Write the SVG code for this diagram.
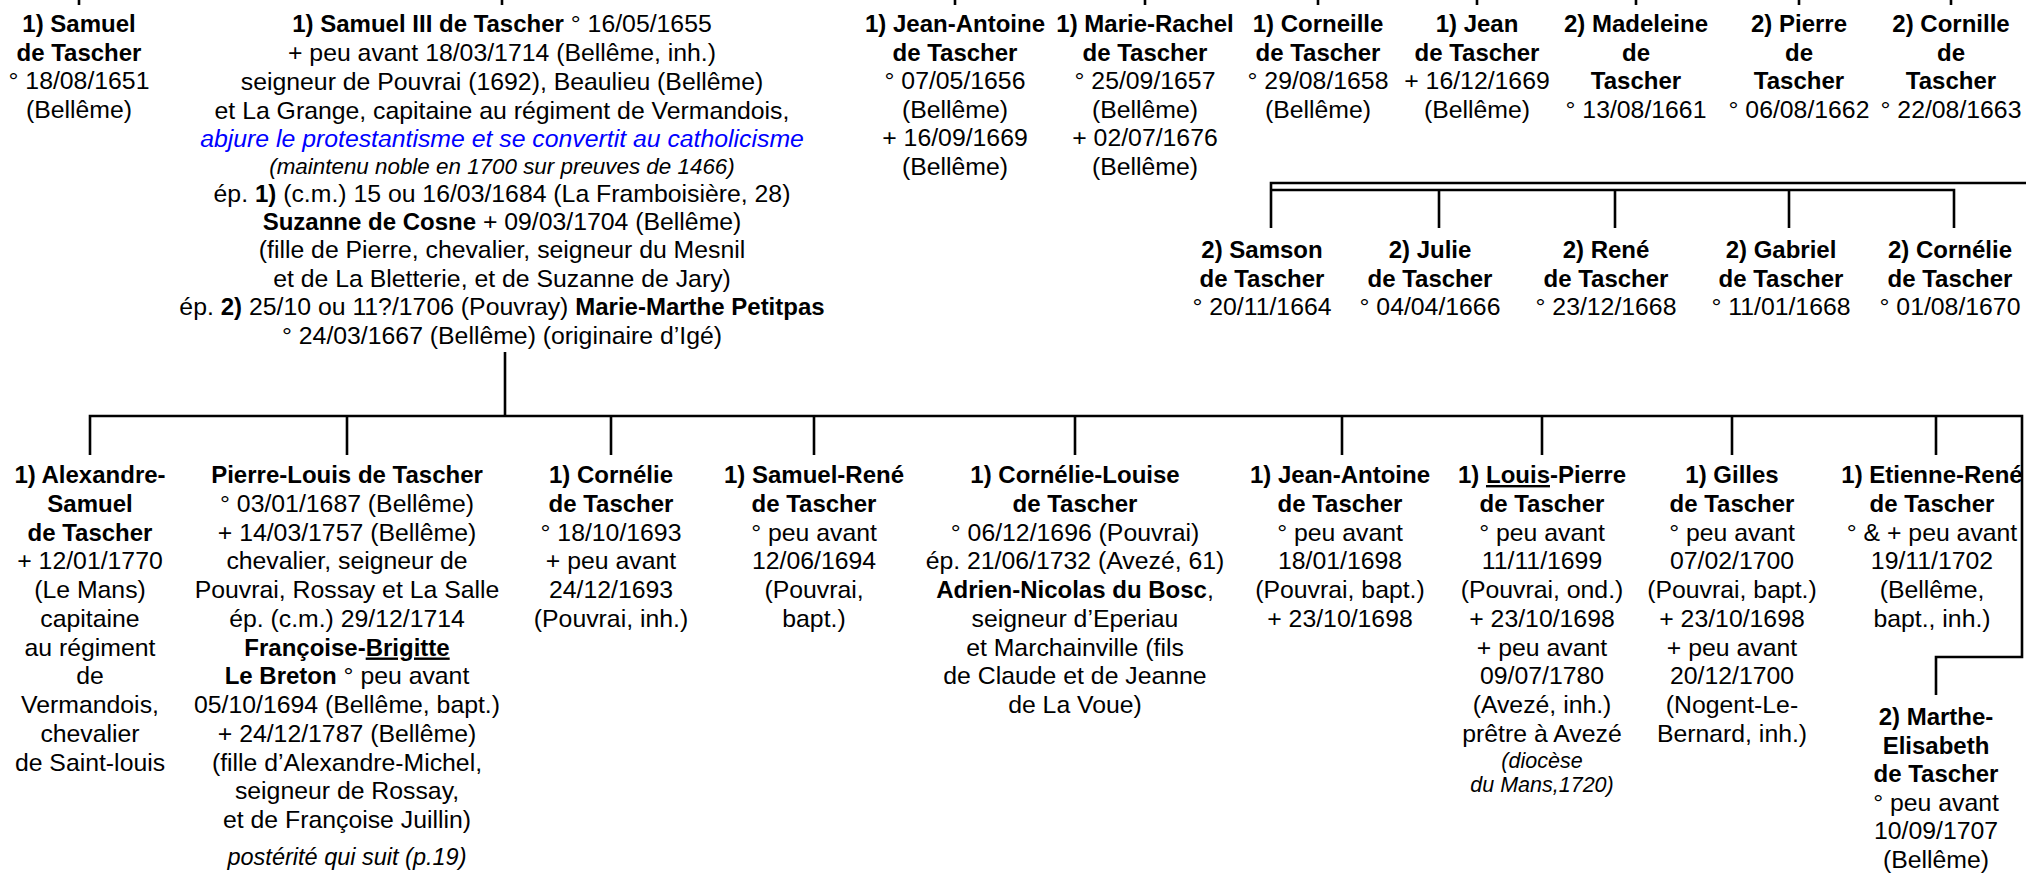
<svg xmlns="http://www.w3.org/2000/svg" width="2026" height="882" viewBox="0 0 2026 882">
<style>
text{font-family:"Liberation Sans",Arial,sans-serif;font-size:24.8px;text-anchor:middle;fill:#000}
.b{font-weight:bold;font-size:24px}
.i{font-style:italic}
.blue{fill:#0000ff}
.s{font-size:22.4px}
.s2{font-size:21.5px}
.u{text-decoration:underline}
.c{stroke:#000;stroke-width:2.6;fill:none}
</style>
<rect width="2026" height="882" fill="#fff"/>
<g id="connectors" class="c">
<path d="M79 0V5M502 0V5M955 0V5M1145 0V5M1318 0V5M1477 0V5M1636 0V5M1799 0V5M1951 0V5"/>
<path d="M1271 228V183H2026"/>
<path d="M1271 190H1954V228M1439 190V228M1615 190V228M1789 190V228"/>
<path d="M505 352V416"/>
<path d="M90 455V416H2022V657H1936V695"/>
<path d="M347 416V455M611 416V455M814 416V455M1075 416V455M1342 416V455M1542 416V455M1732 416V455M1936 416V455"/>
</g>
<g id="n-samuel">
<text x="79" y="32" class="b">1) Samuel</text>
<text x="79" y="60.5" class="b">de Tascher</text>
<text x="79" y="89">° 18/08/1651</text>
<text x="79" y="117.5">(Bellême)</text>
</g>
<g id="n-samuel3">
<text x="502" y="32"><tspan class="b">1) Samuel III de Tascher</tspan> ° 16/05/1655</text>
<text x="502" y="61">+ peu avant 18/03/1714 (Bellême, inh.)</text>
<text x="502" y="90">seigneur de Pouvrai (1692), Beaulieu (Bellême)</text>
<text x="502" y="118.5">et La Grange, capitaine au régiment de Vermandois,</text>
<text x="502" y="146.5" class="i blue">abjure le protestantisme et se convertit au catholicisme</text>
<text x="502" y="173.5" class="i s">(maintenu noble en 1700 sur preuves de 1466)</text>
<text x="502" y="201.5">ép. <tspan class="b">1)</tspan> (c.m.) 15 ou 16/03/1684 (La Framboisière, 28)</text>
<text x="502" y="229.5"><tspan class="b">Suzanne de Cosne</tspan> + 09/03/1704 (Bellême)</text>
<text x="502" y="258">(fille de Pierre, chevalier, seigneur du Mesnil</text>
<text x="502" y="286.5">et de La Bletterie, et de Suzanne de Jary)</text>
<text x="502" y="315">ép. <tspan class="b">2)</tspan> 25/10 ou 11?/1706 (Pouvray) <tspan class="b">Marie-Marthe Petitpas</tspan></text>
<text x="502" y="343.5">° 24/03/1667 (Bellême) (originaire d’Igé)</text>
</g>
<g id="n-jeanantoine1">
<text x="955" y="32" class="b">1) Jean-Antoine</text>
<text x="955" y="60.5" class="b">de Tascher</text>
<text x="955" y="89">° 07/05/1656</text>
<text x="955" y="117.5">(Bellême)</text>
<text x="955" y="146">+ 16/09/1669</text>
<text x="955" y="174.5">(Bellême)</text>
</g>
<g id="n-marierachel">
<text x="1145" y="32" class="b">1) Marie-Rachel</text>
<text x="1145" y="60.5" class="b">de Tascher</text>
<text x="1145" y="89">° 25/09/1657</text>
<text x="1145" y="117.5">(Bellême)</text>
<text x="1145" y="146">+ 02/07/1676</text>
<text x="1145" y="174.5">(Bellême)</text>
</g>
<g id="n-corneille">
<text x="1318" y="32" class="b">1) Corneille</text>
<text x="1318" y="60.5" class="b">de Tascher</text>
<text x="1318" y="89">° 29/08/1658</text>
<text x="1318" y="117.5">(Bellême)</text>
</g>
<g id="n-jean">
<text x="1477" y="32" class="b">1) Jean</text>
<text x="1477" y="60.5" class="b">de Tascher</text>
<text x="1477" y="89">+ 16/12/1669</text>
<text x="1477" y="117.5">(Bellême)</text>
</g>
<g id="n-madeleine">
<text x="1636" y="32" class="b">2) Madeleine</text>
<text x="1636" y="60.5" class="b">de</text>
<text x="1636" y="89" class="b">Tascher</text>
<text x="1636" y="117.5">° 13/08/1661</text>
</g>
<g id="n-pierre">
<text x="1799" y="32" class="b">2) Pierre</text>
<text x="1799" y="60.5" class="b">de</text>
<text x="1799" y="89" class="b">Tascher</text>
<text x="1799" y="117.5">° 06/08/1662</text>
</g>
<g id="n-cornille">
<text x="1951" y="32" class="b">2) Cornille</text>
<text x="1951" y="60.5" class="b">de</text>
<text x="1951" y="89" class="b">Tascher</text>
<text x="1951" y="117.5">° 22/08/1663</text>
</g>
<g id="n-samson">
<text x="1262" y="258" class="b">2) Samson</text>
<text x="1262" y="286.5" class="b">de Tascher</text>
<text x="1262" y="315">° 20/11/1664</text>
</g>
<g id="n-julie">
<text x="1430" y="258" class="b">2) Julie</text>
<text x="1430" y="286.5" class="b">de Tascher</text>
<text x="1430" y="315">° 04/04/1666</text>
</g>
<g id="n-rene">
<text x="1606" y="258" class="b">2) René</text>
<text x="1606" y="286.5" class="b">de Tascher</text>
<text x="1606" y="315">° 23/12/1668</text>
</g>
<g id="n-gabriel">
<text x="1781" y="258" class="b">2) Gabriel</text>
<text x="1781" y="286.5" class="b">de Tascher</text>
<text x="1781" y="315">° 11/01/1668</text>
</g>
<g id="n-cornelie2">
<text x="1950" y="258" class="b">2) Cornélie</text>
<text x="1950" y="286.5" class="b">de Tascher</text>
<text x="1950" y="315">° 01/08/1670</text>
</g>
<g id="n-alexandre">
<text x="90" y="483" class="b">1) Alexandre-</text>
<text x="90" y="511.75" class="b">Samuel</text>
<text x="90" y="540.5" class="b">de Tascher</text>
<text x="90" y="569.25">+ 12/01/1770</text>
<text x="90" y="598">(Le Mans)</text>
<text x="90" y="626.75">capitaine</text>
<text x="90" y="655.5">au régiment</text>
<text x="90" y="684.25">de</text>
<text x="90" y="713">Vermandois,</text>
<text x="90" y="741.75">chevalier</text>
<text x="90" y="770.5">de Saint-louis</text>
</g>
<g id="n-pierrelouis">
<text x="347" y="483" class="b">Pierre-Louis de Tascher</text>
<text x="347" y="511.75">° 03/01/1687 (Bellême)</text>
<text x="347" y="540.5">+ 14/03/1757 (Bellême)</text>
<text x="347" y="569.25">chevalier, seigneur de</text>
<text x="347" y="598">Pouvrai, Rossay et La Salle</text>
<text x="347" y="626.75">ép. (c.m.) 29/12/1714</text>
<text x="347" y="655.5" class="b">Françoise-<tspan class="u">Brigitte</tspan></text>
<text x="347" y="684.25"><tspan class="b">Le Breton</tspan> ° peu avant</text>
<text x="347" y="713">05/10/1694 (Bellême, bapt.)</text>
<text x="347" y="741.75">+ 24/12/1787 (Bellême)</text>
<text x="347" y="770.5">(fille d’Alexandre-Michel,</text>
<text x="347" y="799.25">seigneur de Rossay,</text>
<text x="347" y="828">et de Françoise Juillin)</text>
<text x="347" y="865" class="i" style="font-size:23.5px">postérité qui suit (p.19)</text>
</g>
<g id="n-cornelie1">
<text x="611" y="483" class="b">1) Cornélie</text>
<text x="611" y="511.75" class="b">de Tascher</text>
<text x="611" y="540.5">° 18/10/1693</text>
<text x="611" y="569.25">+ peu avant</text>
<text x="611" y="598">24/12/1693</text>
<text x="611" y="626.75">(Pouvrai, inh.)</text>
</g>
<g id="n-samuelrene">
<text x="814" y="483" class="b">1) Samuel-René</text>
<text x="814" y="511.75" class="b">de Tascher</text>
<text x="814" y="540.5">° peu avant</text>
<text x="814" y="569.25">12/06/1694</text>
<text x="814" y="598">(Pouvrai,</text>
<text x="814" y="626.75">bapt.)</text>
</g>
<g id="n-cornelielouise">
<text x="1075" y="483" class="b">1) Cornélie-Louise</text>
<text x="1075" y="511.75" class="b">de Tascher</text>
<text x="1075" y="540.5">° 06/12/1696 (Pouvrai)</text>
<text x="1075" y="569.25">ép. 21/06/1732 (Avezé, 61)</text>
<text x="1075" y="598"><tspan class="b">Adrien-Nicolas du Bosc</tspan>,</text>
<text x="1075" y="626.75">seigneur d’Eperiau</text>
<text x="1075" y="655.5">et Marchainville (fils</text>
<text x="1075" y="684.25">de Claude et de Jeanne</text>
<text x="1075" y="713">de La Voue)</text>
</g>
<g id="n-jeanantoine2">
<text x="1340" y="483" class="b">1) Jean-Antoine</text>
<text x="1340" y="511.75" class="b">de Tascher</text>
<text x="1340" y="540.5">° peu avant</text>
<text x="1340" y="569.25">18/01/1698</text>
<text x="1340" y="598">(Pouvrai, bapt.)</text>
<text x="1340" y="626.75">+ 23/10/1698</text>
</g>
<g id="n-louispierre">
<text x="1542" y="483" class="b">1) <tspan class="u">Louis</tspan>-Pierre</text>
<text x="1542" y="511.75" class="b">de Tascher</text>
<text x="1542" y="540.5">° peu avant</text>
<text x="1542" y="569.25">11/11/1699</text>
<text x="1542" y="598">(Pouvrai, ond.)</text>
<text x="1542" y="626.75">+ 23/10/1698</text>
<text x="1542" y="655.5">+ peu avant</text>
<text x="1542" y="684.25">09/07/1780</text>
<text x="1542" y="713">(Avezé, inh.)</text>
<text x="1542" y="741.75">prêtre à Avezé</text>
<text x="1542" y="768" class="i s2">(diocèse</text>
<text x="1542" y="792" class="i s2">du Mans,1720)</text>
</g>
<g id="n-gilles">
<text x="1732" y="483" class="b">1) Gilles</text>
<text x="1732" y="511.75" class="b">de Tascher</text>
<text x="1732" y="540.5">° peu avant</text>
<text x="1732" y="569.25">07/02/1700</text>
<text x="1732" y="598">(Pouvrai, bapt.)</text>
<text x="1732" y="626.75">+ 23/10/1698</text>
<text x="1732" y="655.5">+ peu avant</text>
<text x="1732" y="684.25">20/12/1700</text>
<text x="1732" y="713">(Nogent-Le-</text>
<text x="1732" y="741.75">Bernard, inh.)</text>
</g>
<g id="n-etiennerene">
<text x="1932" y="483" class="b">1) Etienne-René</text>
<text x="1932" y="511.75" class="b">de Tascher</text>
<text x="1932" y="540.5">° &amp; + peu avant</text>
<text x="1932" y="569.25">19/11/1702</text>
<text x="1932" y="598">(Bellême,</text>
<text x="1932" y="626.75">bapt., inh.)</text>
</g>
<g id="n-marthe">
<text x="1936" y="725" class="b">2) Marthe-</text>
<text x="1936" y="753.5" class="b">Elisabeth</text>
<text x="1936" y="782" class="b">de Tascher</text>
<text x="1936" y="810.5">° peu avant</text>
<text x="1936" y="839">10/09/1707</text>
<text x="1936" y="867.5">(Bellême)</text>
</g>
</svg>
